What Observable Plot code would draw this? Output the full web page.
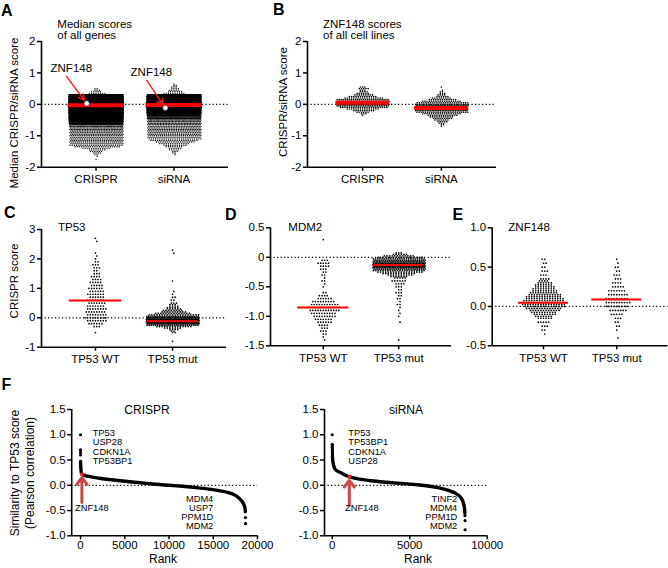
<!DOCTYPE html>
<html><head><meta charset="utf-8">
<script src="https://cdn.jsdelivr.net/npm/d3@7"></script>
<script src="https://cdn.jsdelivr.net/npm/@observablehq/plot@0.6"></script>
<style>
body{margin:0;background:#fff;}
#fig{position:relative;width:668px;height:568px;overflow:hidden;font-family:"Liberation Sans",Arial,sans-serif;color:#000;background:#fff;}
#fig svg{position:absolute;}
.t{position:absolute;white-space:nowrap;}
</style></head><body><div id="fig"></div>
<script>
// ---------- DATA ([score, number of points]) ----------
const catsAB = ["CRISPR", "siRNA"];
const catsCDE = ["TP53 WT", "TP53 mut"];

// Panel A: median scores of all genes
const A_crispr = [[0.5,2],[0.45,3],[0.4,5],[0.35,8],[0.3,420],[0.25,700],[0.2,780],[0.15,850],[0.1,950],[0.05,1050],[0,1100],[-0.05,1050],[-0.1,980],[-0.15,900],[-0.2,830],[-0.25,760],[-0.3,690],[-0.35,620],[-0.4,550],[-0.45,480],[-0.5,400],[-0.55,260],[-0.6,140],[-0.65,75],[-0.7,50],[-0.75,38],[-0.8,34],[-0.85,32],[-0.9,31],[-0.95,31],[-1.0,30],[-1.05,30],[-1.1,30],[-1.15,29],[-1.2,28],[-1.25,27],[-1.3,25],[-1.35,21],[-1.4,13],[-1.45,8],[-1.5,6],[-1.55,4],[-1.6,2],[-1.65,1],[-1.75,1]];
const A_sirna = [[0.65,1],[0.6,2],[0.55,3],[0.5,4],[0.45,5],[0.4,7],[0.35,10],[0.3,300],[0.25,450],[0.2,520],[0.15,570],[0.1,610],[0.05,630],[0,630],[-0.05,610],[-0.1,570],[-0.15,520],[-0.2,460],[-0.25,380],[-0.3,280],[-0.35,180],[-0.4,110],[-0.45,65],[-0.5,46],[-0.55,39],[-0.6,36],[-0.65,34],[-0.7,33],[-0.75,32],[-0.8,31],[-0.85,30],[-0.9,30],[-0.95,29],[-1.0,28],[-1.05,27],[-1.1,25],[-1.15,22],[-1.2,18],[-1.25,14],[-1.3,11],[-1.35,8],[-1.4,6],[-1.45,5],[-1.5,3],[-1.55,2],[-1.6,1]];
const A_medians = [-0.03, -0.02];
const A_znf148 = [0.03, -0.11];

// Panel B: ZNF148 scores of all cell lines
const B_crispr = [[0.55,3],[0.5,5],[0.45,3],[0.4,4],[0.35,6],[0.3,9],[0.25,13],[0.2,18],[0.15,26],[0.1,34],[0.05,40],[0,38],[-0.05,30],[-0.1,22],[-0.15,15],[-0.2,10],[-0.25,6],[-0.3,3],[-0.35,1]];
const B_sirna = [[0.55,1],[0.45,1],[0.4,2],[0.35,3],[0.3,4],[0.25,6],[0.2,9],[0.15,13],[0.1,18],[0.05,24],[0,30],[-0.05,36],[-0.1,40],[-0.15,38],[-0.2,32],[-0.25,25],[-0.3,18],[-0.35,14],[-0.4,11],[-0.45,9],[-0.5,7],[-0.55,5],[-0.6,3],[-0.65,2],[-0.7,1]];
const B_medians = [0.05, -0.12];

// Panel C: TP53 CRISPR score
const C_wt = [[2.7,1],[2.6,1],[2.2,1],[2.1,1],[2.0,1],[1.9,2],[1.8,3],[1.7,3],[1.6,2],[1.5,3],[1.4,4],[1.3,4],[1.2,5],[1.1,5],[1.0,6],[0.9,6],[0.8,7],[0.7,6],[0.6,7],[0.5,7],[0.4,7],[0.3,8],[0.2,8],[0.1,8],[0,9],[-0.1,8],[-0.2,6],[-0.3,3],[-0.5,1]];
const C_mut = [[2.3,1],[2.2,1],[1.25,1],[0.9,1],[0.8,1],[0.7,2],[0.6,2],[0.5,3],[0.45,3],[0.4,4],[0.35,5],[0.3,6],[0.25,8],[0.2,10],[0.15,14],[0.1,20],[0.05,30],[0,45],[-0.05,60],[-0.1,75],[-0.15,65],[-0.2,45],[-0.25,25],[-0.3,14],[-0.35,7],[-0.4,4],[-0.45,2],[-0.5,2],[-0.8,1]];
const C_medians = [0.59, -0.12];

// Panel D: MDM2
const D_wt = [[0.3,1],[-0.05,3],[-0.1,5],[-0.15,4],[-0.2,3],[-0.25,2],[-0.3,2],[-0.35,1],[-0.4,2],[-0.45,1],[-0.5,1],[-0.6,2],[-0.65,4],[-0.7,6],[-0.75,9],[-0.8,11],[-0.85,13],[-0.9,12],[-0.95,10],[-1.0,9],[-1.05,7],[-1.1,6],[-1.15,4],[-1.2,3],[-1.25,3],[-1.3,2],[-1.35,1],[-1.4,1]];
const D_mut = [[0.075,3],[0.05,6],[0.025,12],[0,18],[-0.025,24],[-0.05,28],[-0.075,33],[-0.1,36],[-0.125,38],[-0.15,37],[-0.175,33],[-0.2,28],[-0.225,22],[-0.25,18],[-0.275,13],[-0.3,10],[-0.325,7],[-0.35,5],[-0.4,6],[-0.45,4],[-0.5,3],[-0.55,2],[-0.6,3],[-0.65,2],[-0.7,2],[-0.75,1],[-0.8,2],[-0.85,1],[-0.9,1],[-0.95,1],[-1.0,1],[-1.1,1],[-1.4,1]];
const D_medians = [-0.85, -0.13];

// Panel E: ZNF148
const E_wt = [[0.6,2],[0.55,2],[0.5,2],[0.45,3],[0.4,3],[0.35,4],[0.325,4],[0.3,6],[0.275,7],[0.25,8],[0.225,9],[0.2,10],[0.175,11],[0.15,13],[0.125,14],[0.1,15],[0.075,16],[0.05,18],[0.025,17],[0,16],[-0.025,14],[-0.05,12],[-0.075,10],[-0.1,9],[-0.125,7],[-0.15,6],[-0.2,5],[-0.25,3],[-0.3,2],[-0.35,1]];
const E_mut = [[0.6,1],[0.55,1],[0.5,2],[0.45,2],[0.4,3],[0.35,3],[0.3,4],[0.25,5],[0.2,7],[0.15,8],[0.1,9],[0.05,10],[0,9],[-0.05,7],[-0.1,5],[-0.15,3],[-0.2,2],[-0.25,2],[-0.3,1],[-0.4,1]];
const E_medians = [0.047, 0.09];

// Panel F: similarity to TP53 score, [rank, Pearson correlation]
const F_crispr_curve = [[5,0.47],[20,0.38],[50,0.3],[100,0.24],[200,0.215],[400,0.2],[800,0.18],[1500,0.155],[2500,0.13],[4000,0.1],[5500,0.07],[7000,0.045],[8500,0.02],[10000,0],[11500,-0.02],[13000,-0.045],[14500,-0.075],[15800,-0.11],[16800,-0.15],[17500,-0.2],[18000,-0.27],[18300,-0.33],[18500,-0.4],[18600,-0.47],[18630,-0.52]];
const F_crispr_top = [[0,1.0],[1,0.7],[2,0.65],[3,0.6]];
const F_crispr_bottom = [[18640,-0.64],[18650,-0.76]];
const F_crispr_znf148 = [150, 0.22];
const F_crispr_topGenes = ["TP53","USP28","CDKN1A","TP53BP1"];
const F_crispr_bottomGenes = ["MDM4","USP7","PPM1D","MDM2"];

const F_sirna_curve = [[10,0.57],[30,0.5],[70,0.42],[130,0.35],[250,0.3],[400,0.27],[610,0.24],[850,0.2],[1100,0.17],[1600,0.13],[2500,0.09],[3500,0.06],[4500,0.035],[5500,0.01],[6300,-0.02],[6900,-0.05],[7500,-0.1],[7900,-0.15],[8200,-0.21],[8370,-0.28],[8480,-0.37],[8540,-0.47],[8560,-0.55]];
const F_sirna_top = [[0,1.0],[2,0.81],[4,0.78],[6,0.75],[8,0.72],[10,0.69],[12,0.66],[14,0.63],[16,0.6]];
const F_sirna_bottom = [[8565,-0.6],[8570,-0.7],[8575,-0.88]];
const F_sirna_znf148 = [1100, 0.165];
const F_sirna_topGenes = ["TP53","TP53BP1","CDKN1A","USP28"];
const F_sirna_bottomGenes = ["TINF2","MDM4","PPM1D","MDM2"];

// ---------- RENDERING ----------
const fig = document.getElementById("fig");
const FONT = "Liberation Sans, Arial, sans-serif";
const baseStyle = (fs) => ({background: "transparent", overflow: "visible", fontFamily: FONT, fontSize: fs + "px", color: "#000"});
const DOT = {strokeDasharray: "1.2,2.3", strokeWidth: 1.2, stroke: "#000"};

function place(svg, left, top) { svg.style.left = left + "px"; svg.style.top = top + "px"; fig.appendChild(svg); }
function addText(txt, x, baseline, o = {}) {
  const size = o.size || 11.5;
  const d = document.createElement("div"); d.className = "t"; d.textContent = txt;
  d.style.fontSize = size + "px"; d.style.lineHeight = size + "px";
  d.style.fontWeight = o.weight || "normal";
  d.style.left = x + "px"; d.style.top = (baseline - 0.8465 * size) + "px";
  if (o.anchor === "middle") d.style.transform = "translateX(-50%)";
  if (o.anchor === "end") d.style.transform = "translateX(-100%)";
  fig.appendChild(d);
}
function addVText(txt, cx, cy, size = 11.5) {
  const d = document.createElement("div"); d.className = "t"; d.textContent = txt;
  d.style.fontSize = size + "px"; d.style.lineHeight = size + "px";
  d.style.left = cx + "px"; d.style.top = cy + "px";
  d.style.transform = "translate(-50%,-50%) rotate(-90deg)";
  fig.appendChild(d);
}
// beeswarm-like layout: points of one value bin spread horizontally in a row (capped width),
// alternate rows shifted by half a spacing
function swarm(bins, cat, unitPx, maxW, maxS) {
  const out = [];
  bins.forEach(([v, n], row) => {
    const s = Math.min(maxS, maxW / n);
    const shift = (row % 2) * s / 2;
    for (let k = 0; k < n; k++) out.push({x: cat + ((k - (n - 1) / 2) * s + shift) / unitPx, y: v});
  });
  return out;
}
const fmt = (ticks, labels) => (d) => labels[ticks.indexOf(d)];

function beePanel(cfg) {
  const [mt, mr, mb, ml] = cfg.margin;
  const xDom = [-0.7, 1.7];
  const unit = (cfg.width - ml - mr) / (xDom[1] - xDom[0]);
  const pts = cfg.groups.flatMap((bins, i) => swarm(bins, i, unit, cfg.maxW, cfg.maxS));
  const meds = cfg.medians.map((m, i) => ({x1: i - cfg.medHalf, x2: i + cfg.medHalf, y: m}));
  const svg = Plot.plot({
    width: cfg.width, height: cfg.height,
    marginTop: mt, marginRight: mr, marginBottom: mb, marginLeft: ml,
    style: baseStyle(11.5),
    x: {domain: xDom},
    y: {domain: cfg.yDomain},
    marks: [
      Plot.ruleY([0], DOT),
      Plot.dot(pts, {x: "x", y: "y", r: cfg.r, fill: "#000"}),
      Plot.ruleY(meds, {x1: "x1", x2: "x2", y: "y", stroke: "#ff0000", strokeWidth: cfg.medW}),
      ...(cfg.extra ? cfg.extra(unit) : []),
      Plot.ruleX([xDom[0]], {strokeWidth: 1.6}),
      Plot.ruleY([cfg.yDomain[0]], {strokeWidth: 1.6}),
      Plot.axisY({ticks: cfg.yTicks, tickFormat: fmt(cfg.yTicks, cfg.yLabels), tickSize: 4, tickPadding: 2, strokeWidth: 1.5, label: null}),
      Plot.axisX({ticks: [0, 1], tickFormat: (i) => cfg.cats[i], tickSize: 4, tickPadding: 4, strokeWidth: 1.5, label: null})
    ]
  });
  place(svg, cfg.left, cfg.top);
}

// annotation layout for panel A (ZNF148 point, arrow, label)
const annA = [{dx: -0.12, labelDx: -0.584, labelY: 1.155, tailDx: -0.38, tailY: 0.89},
              {dx: -0.11, labelDx: -0.557, labelY: 1.01, tailDx: -0.35, tailY: 0.76}];
const znfA = A_znf148.map((v, i) => ({cat: i, v, ...annA[i]}));

beePanel({left: 0, top: 0, width: 240, height: 200, margin: [41, 12, 33.3, 41],
  yDomain: [-2, 2], yTicks: [2, 1, 0, -1, -2], yLabels: ["2", "1", "0", "-1", "-2"],
  cats: catsAB, groups: [A_crispr, A_sirna], medians: A_medians,
  r: 0.7, maxW: 54, maxS: 2.2, medHalf: 0.36, medW: 4,
  extra: () => [
    Plot.dot(znfA, {x: (d) => d.cat + d.dx, y: "v", r: 2.6, fill: "white", stroke: "#333", strokeWidth: 0.6}),
    Plot.arrow(znfA, {x1: (d) => d.cat + d.tailDx, y1: "tailY", x2: (d) => d.cat + d.dx - 0.03, y2: (d) => d.v + 0.1, stroke: "#ff1a1a", strokeWidth: 1.4, headLength: 7, headAngle: 55}),
    Plot.text(znfA, {x: (d) => d.cat + d.labelDx, y: "labelY", text: () => "ZNF148", textAnchor: "start", lineAnchor: "middle", fontSize: 11.5})
  ]
});
beePanel({left: 260, top: 0, width: 240, height: 200, margin: [41, 4, 33.3, 47],
  yDomain: [-2, 2], yTicks: [2, 1, 0, -1, -2], yLabels: ["2", "1", "0", "-1", "-2"],
  cats: catsAB, groups: [B_crispr, B_sirna], medians: B_medians,
  r: 0.8, maxW: 53, maxS: 2.2, medHalf: 0.34, medW: 4});
beePanel({left: 0, top: 200, width: 240, height: 170, margin: [29, 14, 23.3, 41],
  yDomain: [-1, 3], yTicks: [3, 2, 1, 0, -1], yLabels: ["3", "2", "1", "0", "-1"],
  cats: catsCDE, groups: [C_wt, C_mut], medians: C_medians,
  r: 0.85, maxW: 53, maxS: 2.6, medHalf: 0.34, medW: 2});
beePanel({left: 240, top: 200, width: 220, height: 170, margin: [27.3, 9, 24.7, 30],
  yDomain: [-1.5, 0.5], yTicks: [0.5, 0, -0.5, -1, -1.5], yLabels: ["0.5", "0", "-0.5", "-1.0", "-1.5"],
  cats: catsCDE, groups: [D_wt, D_mut], medians: D_medians,
  r: 0.85, maxW: 53, maxS: 2.6, medHalf: 0.34, medW: 2});
beePanel({left: 460, top: 200, width: 208, height: 170, margin: [27.3, 0.5, 24.7, 31.7],
  yDomain: [-0.5, 1], yTicks: [1, 0.5, 0, -0.5], yLabels: ["1.0", "0.5", "0.0", "-0.5"],
  cats: catsCDE, groups: [E_wt, E_mut], medians: E_medians,
  r: 0.85, maxW: 53, maxS: 2.6, medHalf: 0.34, medW: 2});

function fPanel(cfg) {
  const [mt, mr, mb, ml] = cfg.margin;
  const yT = [1.5, 1, 0.5, 0, -0.5, -1], yL = ["1.5", "1.0", "0.5", "0.0", "-0.5", "-1.0"];
  const svg = Plot.plot({
    width: cfg.width, height: cfg.height,
    marginTop: mt, marginRight: mr, marginBottom: mb, marginLeft: ml,
    style: baseStyle(11.5),
    x: {domain: cfg.xDomain},
    y: {domain: [-1, 1.5]},
    marks: [
      Plot.ruleY([0], DOT),
      Plot.line(cfg.curve, {x: (d) => d[0], y: (d) => d[1], stroke: "#000", strokeWidth: 3.4, curve: "monotone-x"}),
      Plot.dot(cfg.topDots.concat(cfg.bottomDots), {x: (d) => d[0], y: (d) => d[1], r: 1.6, fill: "#000"}),
      Plot.dot([cfg.znf], {x: (d) => d[0], y: (d) => d[1], r: 2, fill: "#e8262a"}),
      Plot.arrow([cfg.znf], {x1: (d) => d[0], x2: (d) => d[0], y1: (d) => d[1] - 0.56, y2: (d) => d[1] - 0.07, stroke: "#c94848", strokeWidth: 3, headLength: 10, headAngle: 75}),
      Plot.ruleX([cfg.xDomain[0]], {strokeWidth: 1.6}),
      Plot.ruleY([-1], {strokeWidth: 1.6}),
      Plot.axisY({ticks: yT, tickFormat: fmt(yT, yL), tickSize: 4, tickPadding: 2, strokeWidth: 1.5, label: null}),
      Plot.axisX({ticks: cfg.xTicks, tickFormat: fmt(cfg.xTicks, cfg.xLabels), tickSize: 4, tickPadding: 1.5, strokeWidth: 1.5, label: null})
    ]
  });
  place(svg, cfg.left, cfg.top);
}
fPanel({left: 0, top: 390, width: 300, height: 178, margin: [19, 43, 32.7, 71.2], xDomain: [-1000, 20000],
  xTicks: [0, 5000, 10000, 15000, 20000], xLabels: ["0", "5000", "10000", "15000", "20000"],
  curve: F_crispr_curve, topDots: F_crispr_top, bottomDots: F_crispr_bottom, znf: F_crispr_znf148});
fPanel({left: 280, top: 390, width: 240, height: 178, margin: [19, 33.3, 32.7, 44], xDomain: [-500, 10000],
  xTicks: [0, 5000, 10000], xLabels: ["0", "5000", "10000"],
  curve: F_sirna_curve, topDots: F_sirna_top, bottomDots: F_sirna_bottom, znf: F_sirna_znf148});

// ---------- TEXT ----------
const L = {size: 16, weight: "bold"};
addText("A", 1, 16.5, L); addText("B", 273, 16, L);
addText("C", 4, 218.5, L); addText("D", 225, 220.5, L); addText("E", 452.5, 220.5, L);
addText("F", 1.5, 390.5, L);

addText("Median scores", 57.3, 28.3); addText("of all genes", 57.3, 39.7);
addText("ZNF148 scores", 323, 28.3); addText("of all cell lines", 323, 39.7);
addText("TP53", 58, 231.7); addText("MDM2", 288.3, 231.7); addText("ZNF148", 508.3, 231.7);
addText("CRISPR", 147, 414, {size: 12, anchor: "middle"}); addText("siRNA", 406, 414, {size: 12, anchor: "middle"});

addVText("Median CRISPR/siRNA score", 15, 113);
addVText("CRISPR/siRNA score", 283.5, 102);
addVText("CRISPR score", 15, 281);
addVText("Similarity to TP53 score", 15, 473, 12);
addVText("(Pearson correlation)", 30, 473, 12);
addText("Rank", 163, 563, {size: 12, anchor: "middle"});
addText("Rank", 418, 563, {size: 12, anchor: "middle"});

const topBL = [436.7, 446.1, 455.5, 464.9], botBL = [502.5, 511.8, 521, 530.3];
F_crispr_topGenes.forEach((g, i) => addText(g, 92.7, topBL[i], {size: 9.3}));
F_crispr_bottomGenes.forEach((g, i) => addText(g, 213.3, botBL[i], {size: 9.3, anchor: "end"}));
F_sirna_topGenes.forEach((g, i) => addText(g, 348.3, topBL[i], {size: 9.3}));
F_sirna_bottomGenes.forEach((g, i) => addText(g, 457.3, botBL[i], {size: 9.3, anchor: "end"}));
addText("ZNF148", 75, 512, {size: 9.3});
addText("ZNF148", 345, 512, {size: 9.3});
</script></body></html>
